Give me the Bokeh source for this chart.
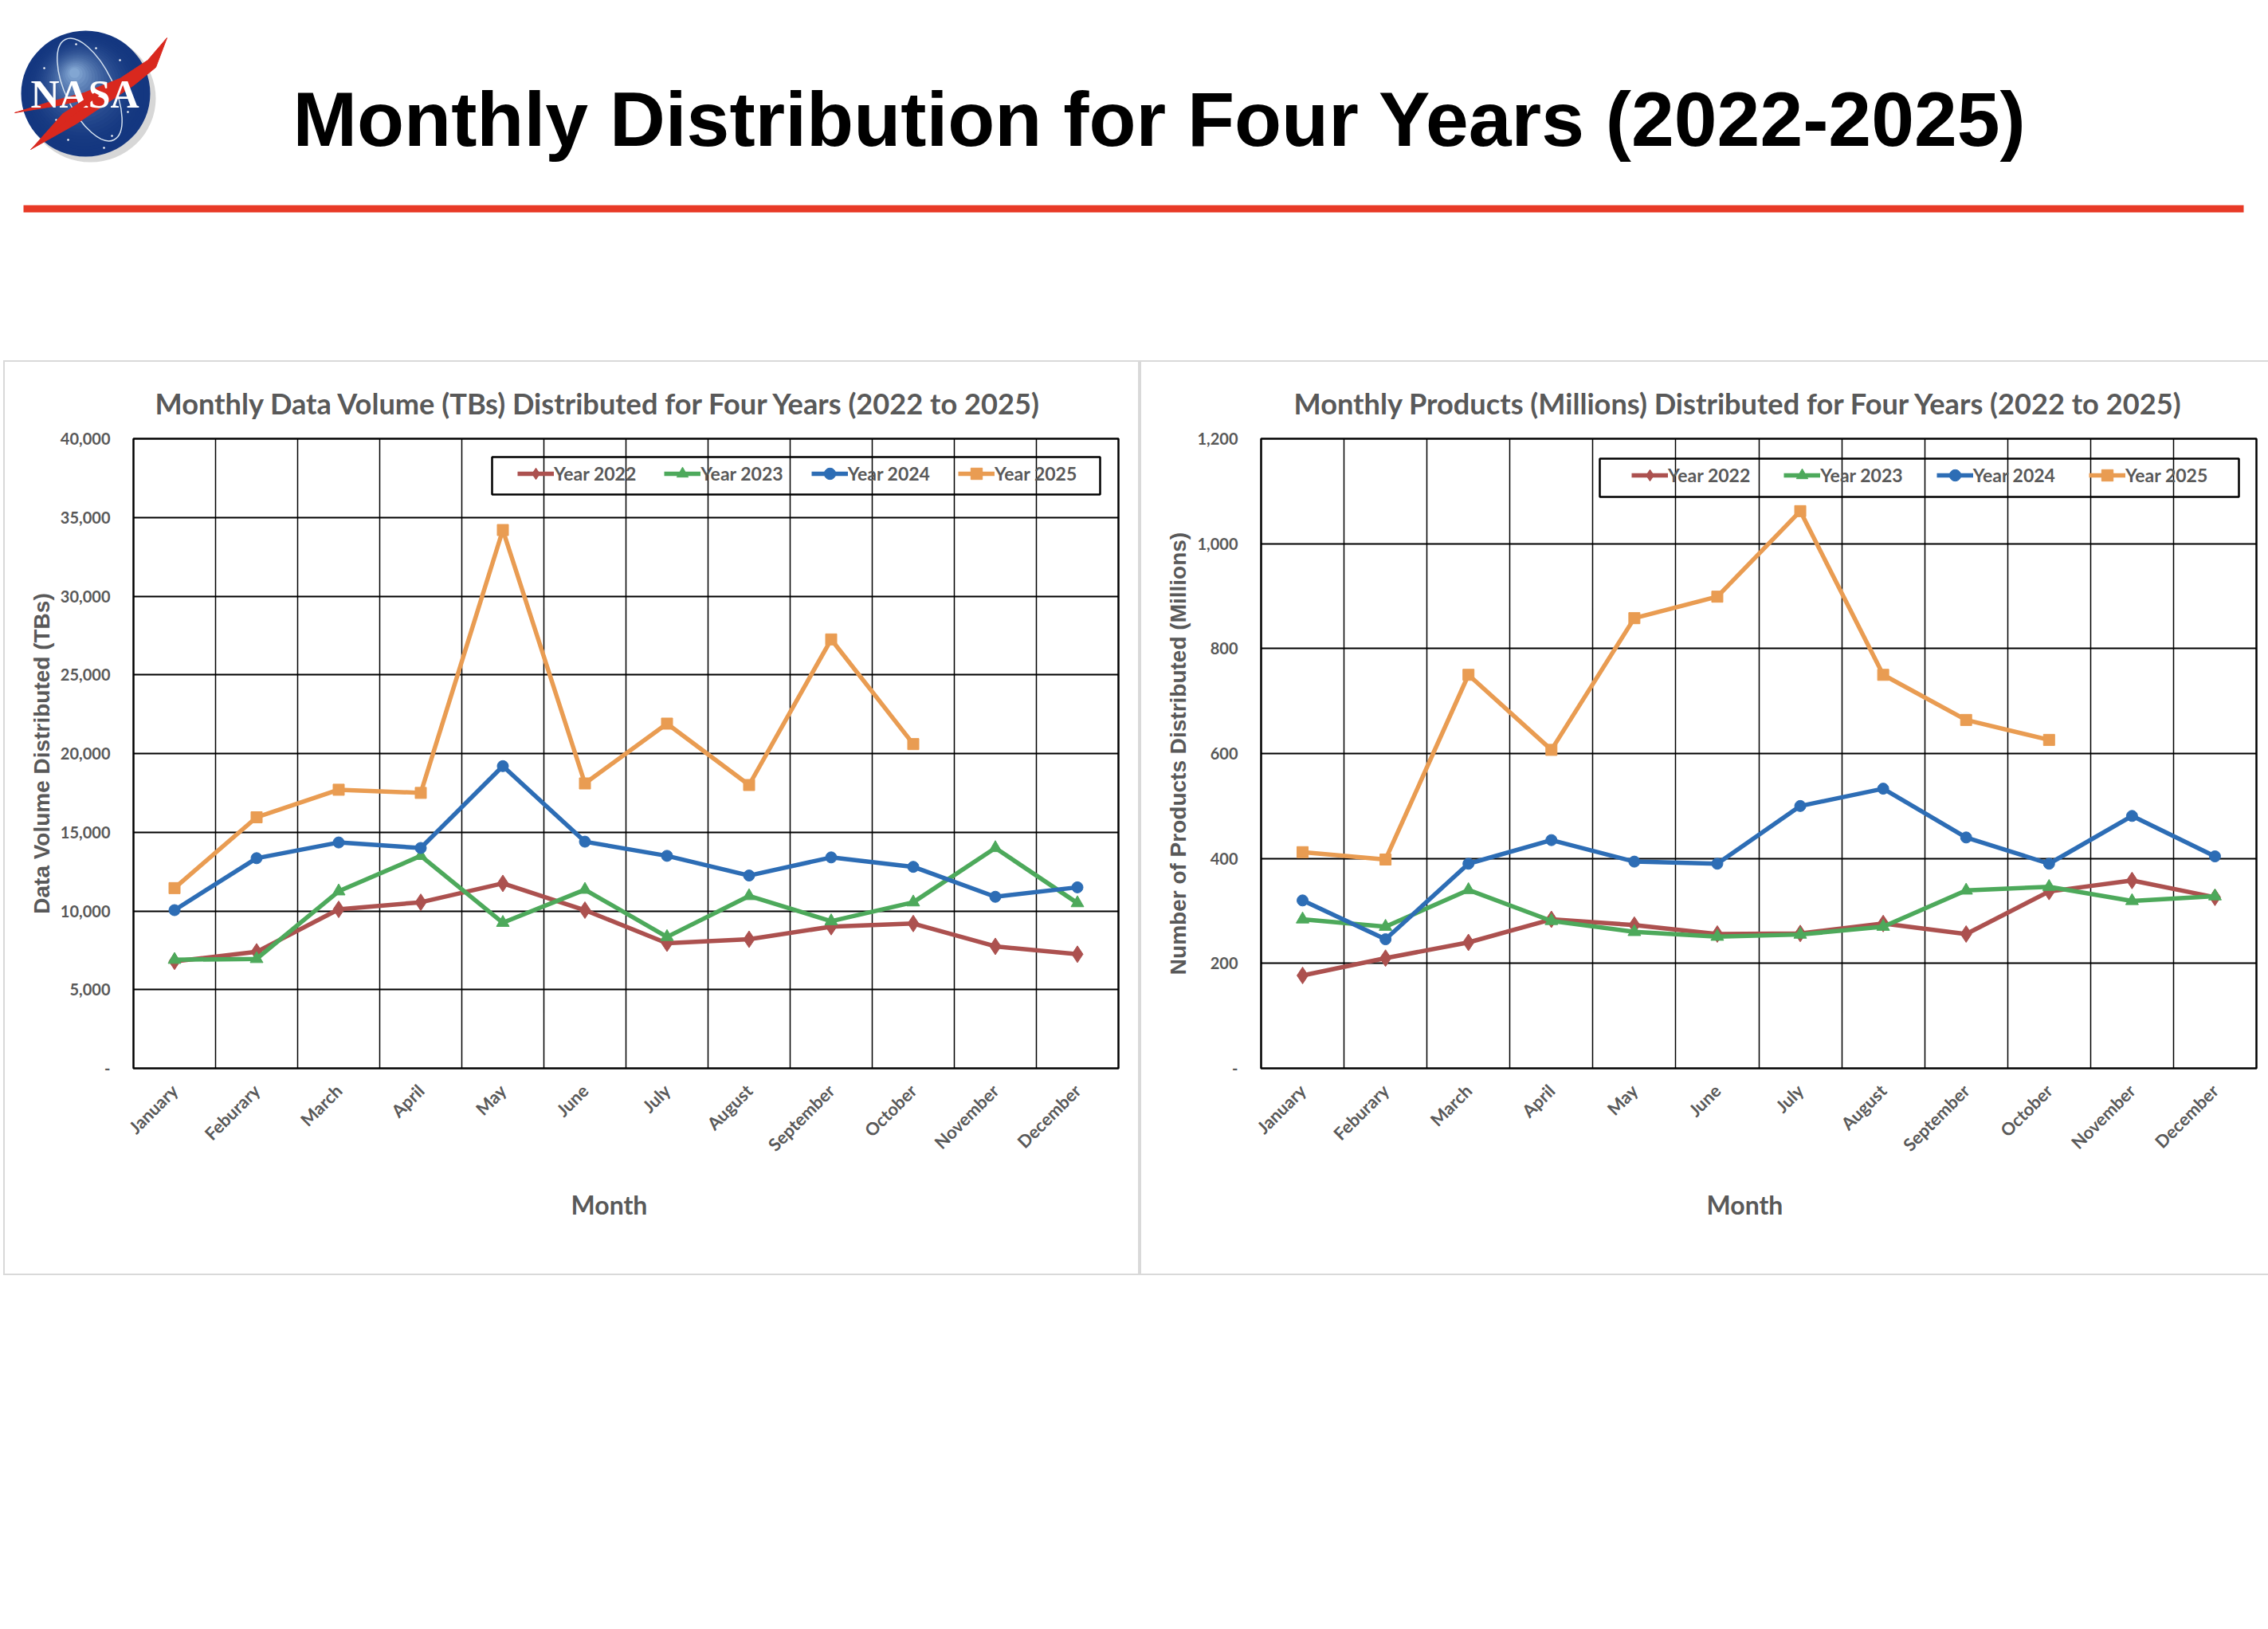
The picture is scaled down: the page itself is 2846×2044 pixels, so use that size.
import numpy as np
from math import pi
from bokeh.plotting import figure
from bokeh.layouts import column, row
from bokeh.models import (Range1d, FactorRange, FixedTicker, Grid, Legend, LegendItem,
                          BoxAnnotation, Title)
from bokeh.core.properties import value
from bokeh.embed import file_html
from bokeh.resources import INLINE

MONTHS = ["January", "Feburary", "March", "April", "May", "June", "July", "August",
          "September", "October", "November", "December"]
MONTHS_2025 = MONTHS[:10]
YEARS = ["Year 2022", "Year 2023", "Year 2024", "Year 2025"]

TB_2022 = [6800, 7400, 10100, 10550, 11750, 10050, 7950, 8200, 9000, 9200, 7750, 7250]
TB_2023 = [6900, 6950, 11250, 13500, 9250, 11350, 8350, 10950, 9350, 10550, 14000, 10500]
TB_2024 = [10050, 13350, 14350, 14000, 19200, 14400, 13500, 12250, 13400, 12800, 10900, 11500]
TB_2025 = [11450, 15950, 17700, 17500, 34200, 18100, 21900, 18000, 27250, 20600]

PR_2022 = [177, 210, 240, 284, 273, 256, 257, 276, 256, 337, 358, 326]
PR_2023 = [284, 270, 340, 281, 260, 251, 255, 270, 339, 346, 319, 328]
PR_2024 = [320, 246, 390, 435, 394, 390, 500, 533, 440, 390, 481, 404]
PR_2025 = [412, 398, 750, 607, 858, 899, 1062, 750, 664, 626]

TB_TICKS = [0, 5000, 10000, 15000, 20000, 25000, 30000, 35000, 40000]
TB_LABELS = ["-", "5,000", "10,000", "15,000", "20,000", "25,000", "30,000", "35,000", "40,000"]
PR_TICKS = [0, 200, 400, 600, 800, 1000, 1200]
PR_LABELS = ["-", "200", "400", "600", "800", "1,000", "1,200"]

COLORS = ["#AC514F", "#4DA95B", "#2D6DB5", "#E99C52"]
MARKERS = ["diamond", "triangle", "circle", "square"]
SIZES = [21, 16, 14, 14]
TEXT = "#595959"
FONT = "Lato"
W = 2846


def canvas_box(l, r, t, b, color, lw):
    return BoxAnnotation(left=l, right=r, top=t, bottom=b,
                         left_units="canvas", right_units="canvas",
                         top_units="canvas", bottom_units="canvas",
                         fill_alpha=0, line_color=color, line_width=lw, line_alpha=1)


def chart(width, margin, left, right, title, title_off, ylabel, ylabel_standoff, ticks, labels, series,
          legend_xy, legend_spacing, legend_box, month_off):
    p = figure(width=width, height=1144, output_backend="svg", toolbar_location=None, margin=margin,
               x_range=FactorRange(factors=MONTHS, factor_padding=0, range_padding=0),
               y_range=Range1d(ticks[0], ticks[-1]),
               min_border_left=left, min_border_right=right, min_border_top=96, min_border_bottom=258,
               background_fill_color="white", border_fill_color="white",
               outline_line_color="black", outline_line_width=2.5,
               styles={"outline": "2px solid #D9D9D9", "outline-offset": "0px"})
    p.title.text = title
    p.title.align = "left"
    p.title.vertical_align = "top"
    p.title.offset = title_off
    p.title.standoff = 41
    p.title.text_font = FONT
    p.title.text_font_style = "bold"
    p.title.text_font_size = "36.2px"
    p.title.text_color = TEXT

    p.xgrid.visible = False
    p.ygrid.visible = False
    p.add_layout(Grid(dimension=0, ticker=FixedTicker(ticks=list(range(13))),
                      grid_line_color="black", grid_line_width=1.5, level="underlay"))
    p.add_layout(Grid(dimension=1, ticker=FixedTicker(ticks=ticks),
                      grid_line_color="black", grid_line_width=2, level="underlay"))

    xa = p.xaxis[0]
    xa.major_label_orientation = pi / 4
    xa.major_label_standoff = 18
    xa.major_label_text_font = FONT
    xa.major_label_text_font_style = "bold"
    xa.major_label_text_font_size = "22px"
    xa.major_label_text_color = TEXT
    xa.axis_line_color = None
    xa.major_tick_line_color = None
    xa.minor_tick_line_color = None

    ya = p.yaxis[0]
    ya.ticker = FixedTicker(ticks=ticks)
    ya.major_label_overrides = dict(zip(ticks, labels))
    ya.major_label_standoff = 23
    ya.major_label_text_font = FONT
    ya.major_label_text_font_style = "bold"
    ya.major_label_text_font_size = "20px"
    ya.major_label_text_color = TEXT
    ya.axis_line_color = None
    ya.major_tick_line_color = None
    ya.minor_tick_line_color = None
    ya.axis_label = ylabel
    ya.axis_label_standoff = ylabel_standoff
    ya.axis_label_text_font = "Liberation Sans"
    ya.axis_label_text_font_style = "bold"
    ya.axis_label_text_font_size = "28px"
    ya.axis_label_text_color = TEXT

    items = []
    for i, (xs, ys) in enumerate(series):
        ln = p.line(xs, ys, line_color=COLORS[i], line_width=5.5)
        mk = p.scatter(xs, ys, marker=MARKERS[i], size=SIZES[i], fill_color=COLORS[i], line_color=COLORS[i])
        items.append(LegendItem(label=YEARS[i], renderers=[ln, mk]))
    lg = Legend(items=items, orientation="horizontal", location=legend_xy,
                background_fill_alpha=0, border_line_color=None,
                label_text_font=FONT, label_text_font_style="bold", label_text_font_size="23px",
                label_text_color=TEXT, label_standoff=0, glyph_width=46, glyph_height=36,
                spacing=legend_spacing, padding=6, margin=0, label_height=20)
    p.add_layout(lg, "center")

    p.add_layout(canvas_box(*legend_box, "black", 2.5))
    p.add_layout(Title(text="Month", align="left", offset=month_off, standoff=54,
                       text_font=FONT, text_font_style="bold", text_font_size="32px",
                       text_color=TEXT), "below")
    return p


left = chart(1422, (0, 2, 0, 6), 161, 25, "Monthly Data Volume (TBs) Distributed for Four Years (2022 to 2025)", 27,
             "Data Volume Distributed (TBs)", 5, TB_TICKS, TB_LABELS,
             [(MONTHS, TB_2022), (MONTHS, TB_2023), (MONTHS, TB_2024), (MONTHS_2025, TB_2025)],
             (482, 728), 35, (611, 1374, 119, 166), 549)
right = chart(1414, (0, 0, 0, 2), 150, 15, "Monthly Products (Millions) Distributed for Four Years (2022 to 2025)", 41,
              "Number of Products Distributed (Millions)", 5, PR_TICKS, PR_LABELS,
              [(MONTHS, PR_2022), (MONTHS, PR_2023), (MONTHS, PR_2024), (MONTHS_2025, PR_2025)],
              (465, 726), 42, (575, 1377, 121, 169), 559)

# header: logo, title and rule, laid out in page pixels
hd = figure(width=W, height=454, output_backend="svg", toolbar_location=None,
            x_range=Range1d(0, W), y_range=Range1d(454, 0), min_border=0,
            outline_line_color=None, background_fill_color="white", border_fill_color="white")
hd.axis.visible = False
hd.grid.visible = False

hd.ellipse(113, 123, width=164, height=160, fill_color="#BDBDBD", fill_alpha=0.6, line_color=None)
n = 24
c0 = np.array([0x14, 0x37, 0x80])
c1 = np.array([0x82, 0xA6, 0xD2])
for k in range(n):
    t = k / (n - 1)
    col = c0 + (c1 - c0) * t ** 2.2
    r = 1 - t * 0.92
    hd.ellipse(107 - 14 * t, 117 - 26 * t, width=162 * r, height=158 * r,
               fill_color="#%02X%02X%02X" % tuple(int(v) for v in col), line_color=None)
hd.scatter([70, 120, 150, 60, 85, 140, 160, 130, 95, 55], [150, 60, 75, 165, 175, 170, 140, 185, 55, 85],
           marker="circle", size=2.5, fill_color="white", line_color=None)
hd.ellipse(112, 112, width=60, height=140, angle=0.45, fill_alpha=0, line_color="#D5E2F0", line_width=1.5)
hd.patch([18, 60, 105, 150, 185, 209, 195, 168, 135, 95, 38, 88, 118, 72],
         [141, 128, 116, 98, 75, 47, 84, 106, 128, 155, 187, 145, 122, 132],
         fill_color="#D9281E", line_color="#D9281E", line_width=1)
hd.text([106], [117], text=["NASA"], text_font=value("Liberation Serif"), text_font_style="bold",
        text_font_size="50px", text_color="white", text_align="center", text_baseline="middle")
hd.patch([78, 118, 124, 84, 38], [142, 116, 119, 150, 187], fill_color="#D9281E", line_color=None)

hd.text([367], [148], text=["Monthly Distribution for Four Years (2022-2025)"],
        text_font=value("Liberation Sans"), text_font_style="bold", text_font_size="96.7px",
        text_color="black", text_align="left", text_baseline="middle")
hd.quad(left=[29], right=[2815], top=[257], bottom=[266], fill_color="#E83A27", line_color=None)

root = column(hd, row(left, right, spacing=0), spacing=0, margin=0)
open("out.html", "w").write(file_html(root, INLINE))
